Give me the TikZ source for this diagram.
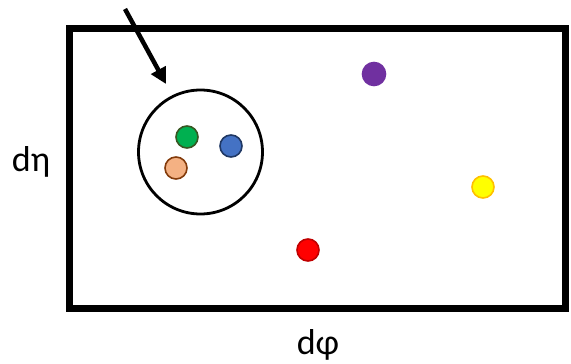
\documentclass[tikz,border=0pt]{standalone}
\usepackage{fontspec}
\setmainfont{Carlito}
\usetikzlibrary{arrows.meta}
\definecolor{cgreen}{HTML}{00B050}
\definecolor{cgreenD}{HTML}{385723}
\definecolor{cblue}{HTML}{4472C4}
\definecolor{cblueD}{HTML}{203864}
\definecolor{corange}{HTML}{F4B183}
\definecolor{corangeD}{HTML}{843C0C}
\definecolor{cpurple}{HTML}{7030A0}
\definecolor{cyellow}{HTML}{FFFF00}
\definecolor{cyellowD}{HTML}{FFC000}
\definecolor{cred}{HTML}{FF0000}
\definecolor{credD}{HTML}{C00000}
\tikzset{
  dot/.style={circle, minimum size=22pt, inner sep=0pt, line width=1.6pt},
  lbl/.style={font=\fontsize{36}{40}\selectfont, inner sep=0pt},
}
\begin{document}
\begin{tikzpicture}[x=1pt,y=-1pt]
\useasboundingbox (0,0) rectangle (571,364);
\node[draw, line width=7pt, minimum width=496pt, minimum height=280pt, inner sep=0pt] (box) at (317.5,168) {};
\node[draw, circle, line width=2.8pt, minimum size=124pt, inner sep=0pt] (cl) at (200.5,152) {};
\coordinate (astart) at (125,9);
\coordinate (atip) at (166,84);
\draw[line width=4.5pt, -{Triangle[length=16pt,width=16pt]}] (astart) -- (atip);
\node[dot, draw=cgreenD, fill=cgreen] (g) at (187,137) {};
\node[dot, draw=cblueD, fill=cblue] (b) at (231,146) {};
\node[dot, draw=corangeD, fill=corange] (o) at (176,168) {};
\node[dot, draw=cpurple, fill=cpurple, minimum size=23pt] (p) at (374,74) {};
\node[dot, draw=cyellowD, fill=cyellow] (y) at (483,187) {};
\node[dot, draw=credD, fill=cred] (r) at (308,250) {};
\node[lbl] (eta) at (31,162) {dη};
\node[lbl] (phi) at (318,345) {dφ};
\end{tikzpicture}
\end{document}
